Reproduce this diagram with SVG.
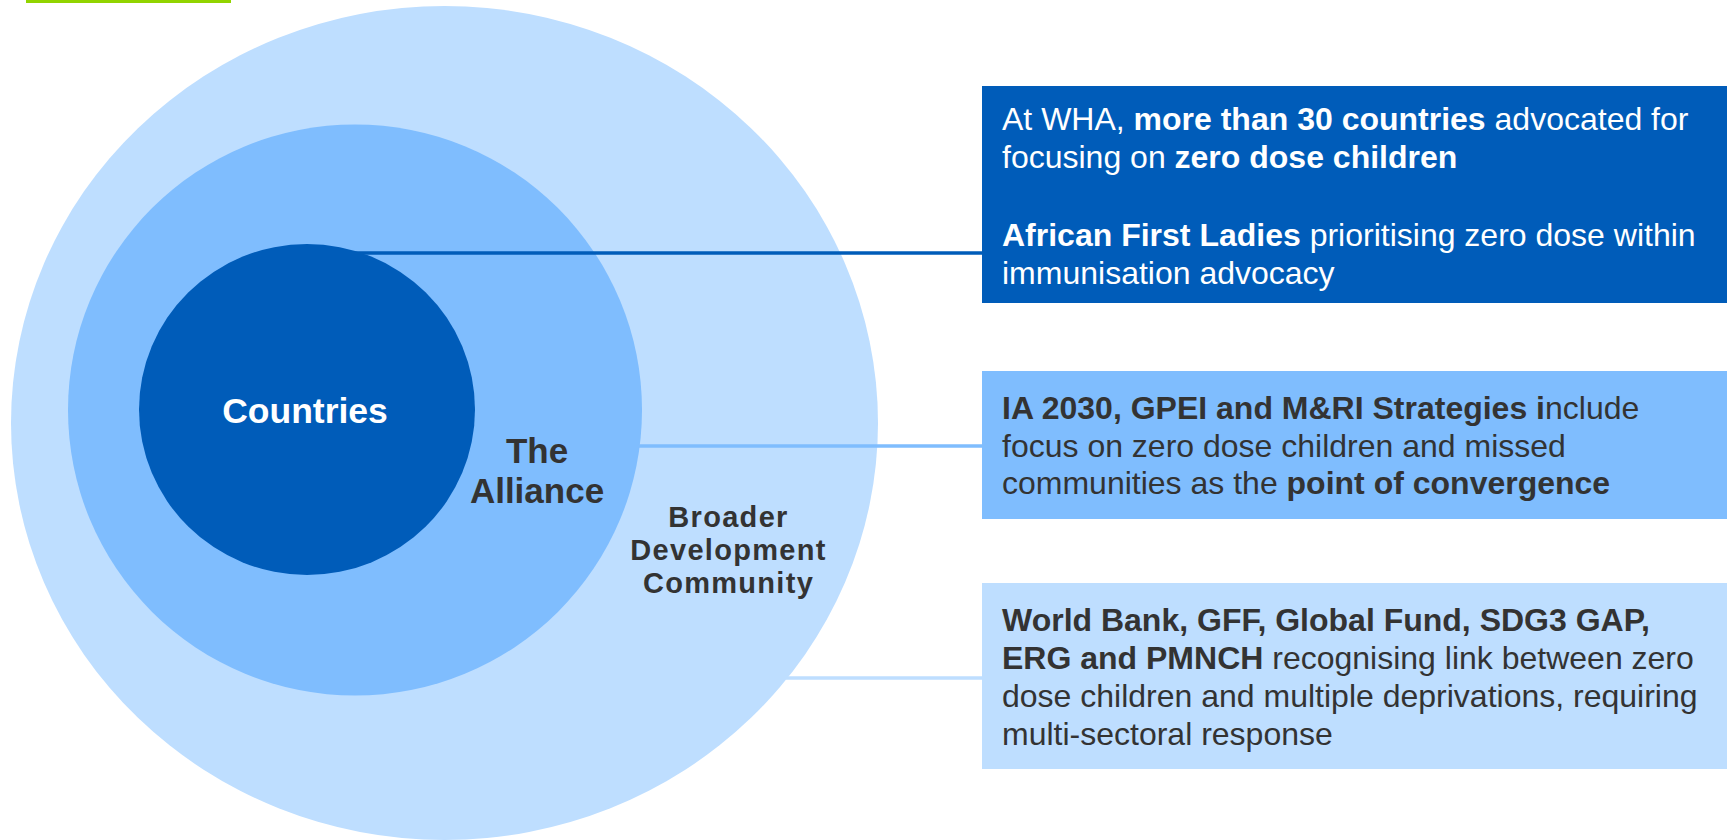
<svg xmlns="http://www.w3.org/2000/svg" width="1728" height="840" viewBox="0 0 1728 840">
  <style>
    .lbl { font-family: "Liberation Sans", Arial, sans-serif; font-weight: bold; text-anchor: middle; }
    .txt { font-family: "Liberation Sans", Arial, sans-serif; font-size: 32px; }
    .b { font-weight: bold; }
    .white { fill: #ffffff; }
    .dark { fill: #333333; }
    .conn { fill: none; stroke-width: 3.5; }
  </style>
  <rect width="1728" height="840" fill="#ffffff"/>

  <!-- accent bar -->
  <rect x="26" y="0" width="205" height="3" fill="#92D400"/>

  <!-- nested circles -->
  <g id="broader-community">
    <ellipse cx="444.5" cy="423" rx="433.5" ry="417" fill="#BEDEFF"/>
  </g>
  <g id="alliance">
    <ellipse cx="355" cy="410" rx="287" ry="285.5" fill="#7FBDFE"/>
  </g>
  <g id="countries">
    <ellipse cx="307" cy="409.5" rx="168" ry="165.5" fill="#005CB9"/>
  </g>

  <!-- connectors -->
  <g id="connectors">
    <line class="conn" x1="354" y1="253" x2="982" y2="253" stroke="#005CB9"/>
    <line class="conn" x1="638" y1="446" x2="982" y2="446" stroke="#7FBDFE"/>
    <line class="conn" x1="786" y1="678" x2="982" y2="678" stroke="#BEDEFF"/>
  </g>

  <!-- circle labels -->
  <g id="countries-label">
    <text class="lbl white" x="305" y="423" font-size="35.5">Countries</text>
  </g>
  <g id="alliance-label">
    <text class="lbl dark" x="537" y="463" font-size="35">The</text>
    <text class="lbl dark" x="537" y="503" font-size="35">Alliance</text>
  </g>
  <g id="broader-label">
    <text class="lbl dark" x="728.5" y="527" font-size="29" letter-spacing="1.3">Broader</text>
    <text class="lbl dark" x="728.5" y="560" font-size="29" letter-spacing="1.3">Development</text>
    <text class="lbl dark" x="728.5" y="593" font-size="29" letter-spacing="1.3">Community</text>
  </g>

  <!-- callout boxes -->
  <g id="box-countries">
    <rect x="982" y="86" width="745" height="217" fill="#005CB9"/>
    <text class="txt white" x="1002" y="129.5">At WHA, <tspan class="b">more than 30 countries</tspan> advocated for</text>
    <text class="txt white" x="1002" y="168">focusing on <tspan class="b">zero dose children</tspan></text>
    <text class="txt white" x="1002" y="245.5"><tspan class="b">African First Ladies</tspan> prioritising zero dose within</text>
    <text class="txt white" x="1002" y="283.5">immunisation advocacy</text>
  </g>
  <g id="box-alliance">
    <rect x="982" y="371" width="745" height="148" fill="#7FBDFE"/>
    <text class="txt dark" x="1002" y="419"><tspan class="b">IA 2030, GPEI and M&amp;RI Strategies i</tspan>nclude</text>
    <text class="txt dark" x="1002" y="456.5">focus on zero dose children and missed</text>
    <text class="txt dark" x="1002" y="494">communities as the <tspan class="b">point of convergence</tspan></text>
  </g>
  <g id="box-broader">
    <rect x="982" y="583" width="745" height="186" fill="#BEDEFF"/>
    <text class="txt dark" x="1002" y="631"><tspan class="b">World Bank, GFF, Global Fund, SDG3 GAP,</tspan></text>
    <text class="txt dark" x="1002" y="669"><tspan class="b">ERG and PMNCH</tspan> recognising link between zero</text>
    <text class="txt dark" x="1002" y="707">dose children and multiple deprivations, requiring</text>
    <text class="txt dark" x="1002" y="745">multi-sectoral response</text>
  </g>
</svg>
